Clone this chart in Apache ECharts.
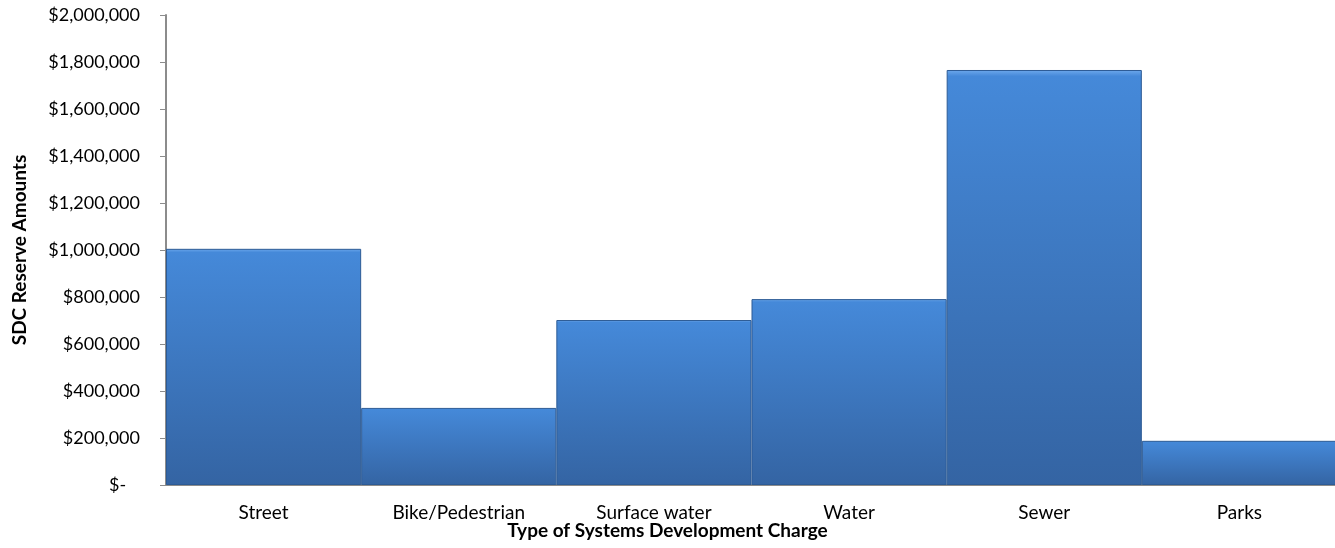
<!DOCTYPE html>
<html>
<head>
<meta charset="utf-8">
<script src="https://cdn.jsdelivr.net/npm/echarts@6/dist/echarts.min.js"></script>
<style>
  html, body { margin: 0; padding: 0; background: #fff; }
  #chart { width: 1335px; height: 548px; }
</style>
</head>
<body>
<div id="chart"></div>
<script>
const categories = ['Street', 'Bike/Pedestrian', 'Surface water', 'Water', 'Sewer', 'Parks'];
const reserveAmounts = [1005000, 328000, 702000, 791000, 1766000, 188000];
const yAxisTitle = 'SDC Reserve Amounts';
const xAxisTitle = 'Type of Systems Development Charge';

const FONT = 'Lato, "Open Sans", sans-serif';

function fmtMoney(v) {
  if (v === 0) return '$-   ';
  return '$' + v.toLocaleString('en-US');
}

const chart = echarts.init(document.getElementById('chart'), null, { renderer: 'canvas' });
chart.setOption({
  animation: false,
  backgroundColor: '#ffffff',
  title: {
    text: xAxisTitle,
    left: 'center',
    top: 521,
    padding: 0,
    textStyle: { fontFamily: FONT, fontSize: 19, fontWeight: 'bold', color: '#000', lineHeight: 20 }
  },
  grid: { left: 166, right: -2, top: 15, bottom: 63, containLabel: false, outerBoundsMode: 'none' },
  xAxis: {
    type: 'category',
    data: categories,
    axisLine: { show: true, lineStyle: { color: '#8c8c8c', width: 2 } },
    axisTick: { show: false },
    axisLabel: { margin: 18, fontFamily: FONT, fontSize: 19, color: '#000' },
    splitLine: { show: false }
  },
  yAxis: {
    type: 'value',
    min: 0,
    max: 2000000,
    interval: 200000,
    name: yAxisTitle,
    nameLocation: 'middle',
    nameGap: 137,
    nameRotate: 90,
    nameTextStyle: { fontFamily: FONT, fontSize: 19, fontWeight: 'bold', color: '#000' },
    axisLine: { show: true, lineStyle: { color: '#8c8c8c', width: 2 } },
    axisTick: { show: true, length: 6, lineStyle: { color: '#8c8c8c' } },
    axisLabel: { margin: 26, fontFamily: FONT, fontSize: 18, color: '#000', formatter: fmtMoney },
    splitLine: { show: false }
  },
  series: [{
    type: 'bar',
    data: reserveAmounts,
    barCategoryGap: 0,
    barGap: 0,
    itemStyle: {
      color: {
        type: 'linear', x: 0, y: 0, x2: 0, y2: 1,
        colorStops: [
          { offset: 0, color: '#6ea9ec' },
          { offset: 0.015, color: '#4589d9' },
          { offset: 1, color: '#3464a3' }
        ]
      },
      borderColor: '#2d5b95',
      borderWidth: 1
    }
  }]
});
</script>
</body>
</html>
